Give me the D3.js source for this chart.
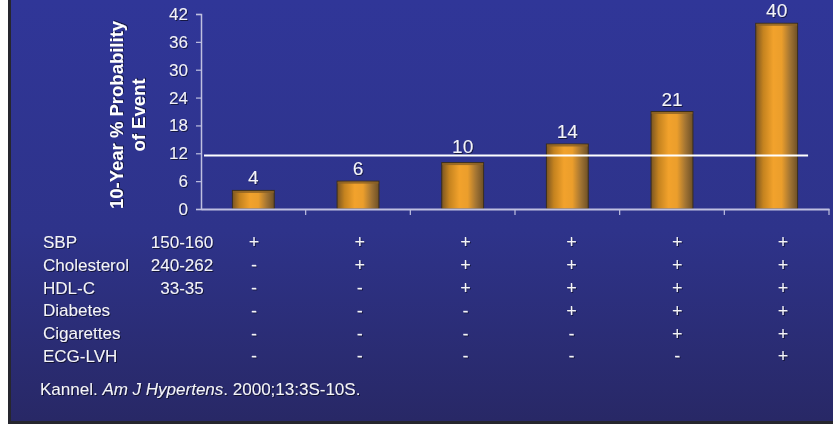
<!DOCTYPE html>
<html>
<head>
<meta charset="utf-8">
<script src="https://cdn.jsdelivr.net/npm/d3@7"></script>
<style>
  html, body { margin: 0; padding: 0; background: #fff; }
  svg { display: block; font-family: "Liberation Sans", Arial, sans-serif; }
</style>
</head>
<body>
<svg width="833" height="424"></svg>
<script>
// chart data
var categories = ["A", "B", "C", "D", "E", "F"];
var values = [4, 6, 10, 14, 21, 40];
var yTicks = [0, 6, 12, 18, 24, 30, 36, 42];
var refValue = 11.5;

// risk factor table
var rowLabels = ["SBP", "Cholesterol", "HDL-C", "Diabetes", "Cigarettes", "ECG-LVH"];
var rowRanges = ["150-160", "240-262", "33-35", "", "", ""];
var rowMarks = [
    ["+", "+", "+", "+", "+", "+"],
    ["-", "+", "+", "+", "+", "+"],
    ["-", "-", "+", "+", "+", "+"],
    ["-", "-", "-", "+", "+", "+"],
    ["-", "-", "-", "-", "+", "+"],
    ["-", "-", "-", "-", "-", "+"]
];

var svg = d3.select("svg"),
    width = +svg.attr("width"),
    height = +svg.attr("height");

var defs = svg.append("defs");

var bg = defs.append("linearGradient")
    .attr("id", "bg").attr("x1", 0).attr("y1", 0).attr("x2", 0).attr("y2", 1);
bg.append("stop").attr("offset", "0%").attr("stop-color", "#303698");
bg.append("stop").attr("offset", "55%").attr("stop-color", "#2e338a");
bg.append("stop").attr("offset", "100%").attr("stop-color", "#282866");

var barGrad = defs.append("linearGradient")
    .attr("id", "bar").attr("x1", 0).attr("y1", 0).attr("x2", 1).attr("y2", 0);
barGrad.append("stop").attr("offset", "0%").attr("stop-color", "#7a5522");
barGrad.append("stop").attr("offset", "18%").attr("stop-color", "#c5831f");
barGrad.append("stop").attr("offset", "42%").attr("stop-color", "#f2a22c");
barGrad.append("stop").attr("offset", "62%").attr("stop-color", "#eb9e2c");
barGrad.append("stop").attr("offset", "82%").attr("stop-color", "#a27433");
barGrad.append("stop").attr("offset", "100%").attr("stop-color", "#6e5026");

var shadow = defs.append("filter").attr("id", "shadow")
    .attr("x", "-20%").attr("y", "-20%").attr("width", "140%").attr("height", "140%");
shadow.append("feDropShadow")
    .attr("dx", 1).attr("dy", 1).attr("stdDeviation", 0.6)
    .attr("flood-color", "#000").attr("flood-opacity", 0.55);

// slide background
svg.append("rect").attr("width", width).attr("height", height).attr("fill", "#ffffff");
svg.append("rect").attr("x", 8).attr("y", 0).attr("width", width - 8).attr("height", height)
    .attr("fill", "#26262e");
svg.append("rect").attr("x", 11).attr("y", 0).attr("width", width - 11).attr("height", 421)
    .attr("fill", "url(#bg)");

// scales
var x = d3.scaleBand().domain(categories).range([201, 829]).padding(0);
var y = d3.scaleLinear().domain([0, 42]).range([209, 14]);
var barW = x.bandwidth() * 0.4;

var axisColor = "#bfc0e0";

// y axis
var yAxis = svg.append("g")
    .attr("transform", "translate(" + x.range()[0] + ",0)")
    .call(d3.axisLeft(y).tickValues(yTicks).tickSize(5).tickPadding(8));
yAxis.select(".domain").attr("stroke", axisColor).attr("stroke-width", 1.5);
yAxis.selectAll(".tick line").attr("stroke", axisColor).attr("stroke-width", 1.2);
yAxis.selectAll(".tick text")
    .attr("fill", "#f2f2f8")
    .style("font-size", "17px")
    .attr("filter", "url(#shadow)");

// bars
svg.append("g").selectAll("rect")
    .data(values)
    .enter().append("rect")
    .attr("x", function(d, i) { return x(categories[i]) + (x.bandwidth() - barW) / 2; })
    .attr("y", function(d) { return y(d); })
    .attr("width", barW)
    .attr("height", function(d) { return y(0) - y(d); })
    .attr("fill", "url(#bar)")
    .attr("stroke", "#3a2e1e")
    .attr("stroke-width", 1);

// bar top bevel
svg.append("g").selectAll("rect")
    .data(values)
    .enter().append("rect")
    .attr("x", function(d, i) { return x(categories[i]) + (x.bandwidth() - barW) / 2 + 0.5; })
    .attr("y", function(d) { return y(d) + 0.5; })
    .attr("width", barW - 1)
    .attr("height", 2)
    .attr("fill", "#8a6024")
    .attr("opacity", 0.8);

// x axis
var xAxis = svg.append("g")
    .attr("transform", "translate(0," + y(0) + ")")
    .call(d3.axisBottom(x).tickSize(0).tickFormat(""));
xAxis.select(".domain").attr("stroke", axisColor).attr("stroke-width", 2);
svg.append("g").selectAll("line")
    .data(categories)
    .enter().append("line")
    .attr("x1", function(d) { return x(d) + x.bandwidth(); })
    .attr("x2", function(d) { return x(d) + x.bandwidth(); })
    .attr("y1", y(0))
    .attr("y2", y(0) + 6)
    .attr("stroke", axisColor)
    .attr("stroke-width", 1.2);

// reference line
svg.append("line")
    .attr("x1", x.range()[0] + 3)
    .attr("x2", x(categories[categories.length - 1]) + x.bandwidth() * 0.8)
    .attr("y1", y(refValue))
    .attr("y2", y(refValue))
    .attr("stroke", "#ffffff")
    .attr("stroke-width", 2);

// value labels - lift a label above the reference line if it would sit on it
function labelY(d) {
    var ly = y(d) - 6;
    if (ly > y(refValue) - 3 && ly < y(refValue) + 16) ly = y(refValue) - 3;
    return ly;
}
svg.append("g").selectAll("text")
    .data(values)
    .enter().append("text")
    .attr("x", function(d, i) { return x(categories[i]) + x.bandwidth() / 2; })
    .attr("y", labelY)
    .attr("text-anchor", "middle")
    .attr("fill", "#f4f4f8")
    .attr("filter", "url(#shadow)")
    .style("font-size", "19px")
    .text(function(d) { return d; });

// y axis title
var title = svg.append("text")
    .attr("transform", "translate(0," + 115 + ") rotate(-90)")
    .attr("text-anchor", "middle")
    .attr("fill", "#ffffff")
    .attr("filter", "url(#shadow)")
    .style("font-size", "18.5px")
    .style("font-weight", "bold");
title.append("tspan").attr("x", 0).attr("y", 123).text("10-Year % Probability");
title.append("tspan").attr("x", 0).attr("y", 145).text("of Event");

// table
var rowY = d3.scalePoint().domain(rowLabels).range([242, 356]);
var colX = d3.scalePoint().domain(categories).range([254, 783]);

var rows = svg.append("g").selectAll("g")
    .data(rowLabels)
    .enter().append("g")
    .attr("transform", function(d) { return "translate(0," + rowY(d) + ")"; })
    .attr("fill", "#f4f4f8")
    .attr("filter", "url(#shadow)")
    .style("font-size", "17px");

rows.append("text")
    .attr("x", 43)
    .attr("dy", "0.35em")
    .text(function(d) { return d; });

rows.append("text")
    .attr("x", 182)
    .attr("dy", "0.35em")
    .attr("text-anchor", "middle")
    .text(function(d, i) { return rowRanges[i]; });

rows.selectAll(".mark")
    .data(function(d, i) { return rowMarks[i]; })
    .enter().append("text")
    .attr("class", "mark")
    .attr("x", function(d, j) { return colX(categories[j]); })
    .attr("dy", "0.35em")
    .attr("text-anchor", "middle")
    .style("font-size", "18px")
    .text(function(d) { return d; });

// citation
var cite = svg.append("text")
    .attr("x", 40)
    .attr("y", 395)
    .attr("fill", "#f4f4f8")
    .attr("filter", "url(#shadow)")
    .style("font-size", "17px");
cite.append("tspan").text("Kannel. ");
cite.append("tspan").style("font-style", "italic").text("Am J Hypertens");
cite.append("tspan").text(". 2000;13:3S-10S.");
</script>
</body>
</html>
